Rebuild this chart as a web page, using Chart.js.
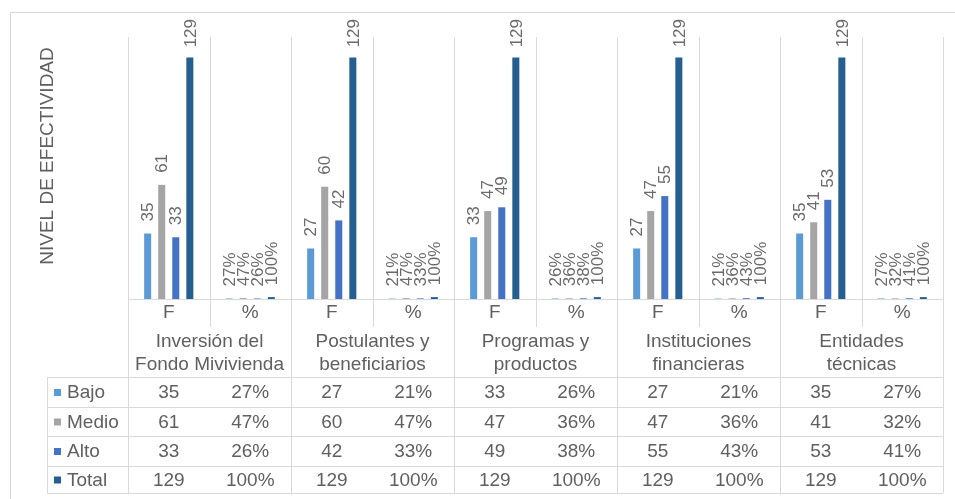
<!DOCTYPE html>
<html>
<head>
<meta charset="utf-8">
<script src="https://cdn.jsdelivr.net/npm/chart.js@4.4.1/dist/chart.umd.min.js"></script>
<style>
  html, body { margin: 0; padding: 0; background: #fff; }
  #wrap { width: 955px; height: 499px; position: relative; }
</style>
</head>
<body>
<div id="wrap"><canvas id="chart"></canvas></div>
<script>
// datos
const groups = [
    ['Inversión del', 'Fondo Mivivienda'],
    ['Postulantes y', 'beneficiarios'],
    ['Programas y', 'productos'],
    ['Instituciones', 'financieras'],
    ['Entidades', 'técnicas']
];
const subLabels = ['F', '%'];
const seriesNames = ['Bajo', 'Medio', 'Alto', 'Total'];
const seriesColors = ['#5B9BD5', '#A5A5A5', '#4472C4', '#255E91'];
const bajoF = [35, 27, 33, 27, 35];
const bajoPct = [27, 21, 26, 21, 27];
const medioF = [61, 60, 47, 47, 41];
const medioPct = [47, 47, 36, 36, 32];
const altoF = [33, 42, 49, 55, 53];
const altoPct = [26, 33, 38, 43, 41];
const totalF = [129, 129, 129, 129, 129];
const totalPct = [100, 100, 100, 100, 100];
const yTitle = 'NIVEL DE EFECTIVIDAD';

const fList = [bajoF, medioF, altoF, totalF];
const pctList = [bajoPct, medioPct, altoPct, totalPct];

// etiquetas de categoria: F, %, F, %, ...
const labels = [];
groups.forEach(() => subLabels.forEach(s => labels.push(s)));

// valores de barra: F tal cual, % como fraccion (como en Excel)
const datasets = seriesNames.map((name, i) => {
    const data = [];
    const text = [];
    for (let g = 0; g < groups.length; g++) {
        data.push(fList[i][g]);
        text.push(String(fList[i][g]));
        data.push(pctList[i][g] / 100);
        text.push(pctList[i][g] + '%');
    }
    return {
        label: name,
        data: data,
        texts: text,
        backgroundColor: seriesColors[i],
        borderWidth: 0,
        categoryPercentage: 0.69,
        barPercentage: 0.5
    };
});

const FONT = '"Liberation Sans", Arial, sans-serif';
const GRID = '#D9D9D9';
const TXT = '#606060';

const tablePlugin = {
    id: 'tablePlugin',
    beforeDatasetsDraw(chart) {
        const ctx = chart.ctx;
        const area = chart.chartArea;
        const x = chart.scales.x;
        const n = labels.length;
        const step = (area.right - area.left) / n;
        const tableLeft = 47;
        const rowY = [377, 407, 436, 466, 493];
        ctx.save();

        // marco exterior
        ctx.strokeStyle = GRID;
        ctx.lineWidth = 1;
        ctx.strokeRect(10.5, 12.5, 960, 500);

        // lineas verticales de categoria
        for (let i = 0; i <= n; i++) {
            const px = Math.round(area.left + i * step) + 0.5;
            const bottom = (i % 2 === 0) ? rowY[rowY.length - 1] : 327;
            ctx.beginPath();
            ctx.moveTo(px, area.top);
            ctx.lineTo(px, bottom);
            ctx.stroke();
        }
        // linea base del eje
        ctx.beginPath();
        ctx.moveTo(area.left, area.bottom + 0.5);
        ctx.lineTo(area.right, area.bottom + 0.5);
        ctx.stroke();

        // filas de la tabla
        rowY.forEach(y => {
            ctx.beginPath();
            ctx.moveTo(tableLeft, y + 0.5);
            ctx.lineTo(area.right, y + 0.5);
            ctx.stroke();
        });
        ctx.beginPath();
        ctx.moveTo(tableLeft + 0.5, rowY[0]);
        ctx.lineTo(tableLeft + 0.5, rowY[rowY.length - 1]);
        ctx.stroke();

        // textos F / %
        ctx.fillStyle = TXT;
        ctx.font = '19px ' + FONT;
        ctx.textAlign = 'center';
        ctx.textBaseline = 'middle';
        for (let i = 0; i < n; i++) {
            ctx.fillText(labels[i], x.getPixelForValue(i), 313);
        }
        // nombres de grupo
        groups.forEach((lines, g) => {
            const cx = (x.getPixelForValue(g * 2) + x.getPixelForValue(g * 2 + 1)) / 2;
            ctx.fillText(lines[0], cx, 342);
            ctx.fillText(lines[1], cx, 365);
        });
        // filas de datos
        seriesNames.forEach((name, s) => {
            const cy = (rowY[s] + rowY[s + 1]) / 2 + 1;
            ctx.fillStyle = seriesColors[s];
            ctx.fillRect(54, cy - 4, 7, 7);
            ctx.fillStyle = TXT;
            ctx.textAlign = 'left';
            ctx.fillText(name, 67, cy);
            ctx.textAlign = 'center';
            const texts = datasets[s].texts;
            for (let i = 0; i < n; i++) {
                ctx.fillText(texts[i], x.getPixelForValue(i), cy);
            }
        });

        // titulo del eje Y
        ctx.save();
        ctx.translate(48, 156);
        ctx.rotate(-Math.PI / 2);
        ctx.font = '19px ' + FONT;
        ctx.fillText(yTitle, 0, 0);
        ctx.restore();

        ctx.restore();
    },
    afterDatasetsDraw(chart) {
        const ctx = chart.ctx;
        ctx.save();
        ctx.fillStyle = '#6b6b6b';
        ctx.font = '17px ' + FONT;
        ctx.textAlign = 'left';
        ctx.textBaseline = 'middle';
        chart.data.datasets.forEach((ds, d) => {
            const meta = chart.getDatasetMeta(d);
            meta.data.forEach((bar, i) => {
                const t = ds.texts[i];
                const w = ctx.measureText(t).width;
                let start = bar.y - 12;
                if (start - w < 19) start = 19 + w;
                ctx.save();
                ctx.translate(bar.x + 1, start);
                ctx.rotate(-Math.PI / 2);
                ctx.fillText(t, 0, 0);
                ctx.restore();
            });
        });
        ctx.restore();
    }
};

new Chart(document.getElementById('chart'), {
    type: 'bar',
    data: {
        labels: labels,
        datasets: datasets
    },
    options: {
        responsive: true,
        maintainAspectRatio: false,
        animation: false,
        layout: {
            padding: { left: 128, right: 12, top: 37, bottom: 200 }
        },
        plugins: {
            legend: { display: false },
            tooltip: { enabled: false }
        },
        scales: {
            x: { display: false },
            y: { display: false, min: 0, max: 140 }
        }
    },
    plugins: [tablePlugin]
});
</script>
</body>
</html>
